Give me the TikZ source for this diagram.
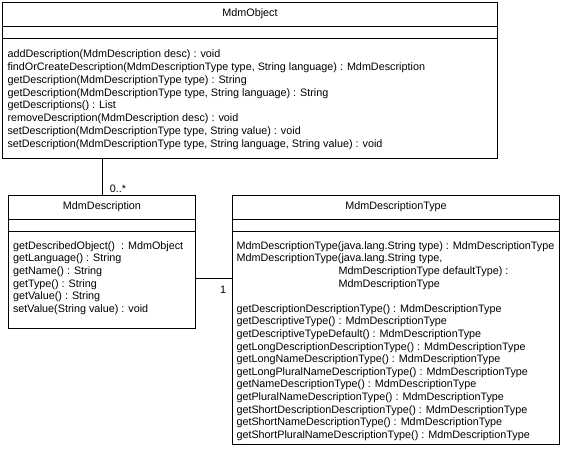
\documentclass[tikz,border=0pt]{standalone}
\usepackage{fontspec}
\setmainfont{Liberation Sans}

\begin{document}
\begin{tikzpicture}[x=1pt, y=-1pt, line width=1pt,
    every node/.style={font=\fontsize{10.8}{12.6}\selectfont},
    classbox/.style={draw, anchor=north west, inner sep=0pt},
    ops/.style={anchor=north west, align=left, inner sep=0pt}]
    \useasboundingbox (0,0) rectangle (561,448);
    % class boxes
    \node[classbox, minimum width=495pt, minimum height=156pt] (obj) at (2,2) {};
    \node[classbox, minimum width=187pt, minimum height=133pt] (desc) at (8,195) {};
    \node[classbox, minimum width=327pt, minimum height=249pt] (type) at (232,195) {};
    \foreach \c in {obj, desc, type} {
        \draw ([yshift=-24pt]\c.north west) -- ([yshift=-24pt]\c.north east);
        \draw ([yshift=-36pt]\c.north west) -- ([yshift=-36pt]\c.north east);
    }
    \node (objname) at ([yshift=-12pt]obj.north) {MdmObject};
    \node (descname) at ([yshift=-12pt]desc.north) {MdmDescription};
    \node (typename) at ([yshift=-12pt]type.north) {MdmDescriptionType};
    % operations
    \node[ops, font=\fontsize{10.8}{12.9}\selectfont] (objops)
        at ([xshift=5pt, yshift=-47pt]obj.north west) {
        addDescription(MdmDescription desc) : void\\
        findOrCreateDescription(MdmDescriptionType type, String language) : MdmDescription\\
        getDescription(MdmDescriptionType type) : String\\
        getDescription(MdmDescriptionType type, String language) : String\\
        getDescriptions() : List\\
        removeDescription(MdmDescription desc) : void\\
        setDescription(MdmDescriptionType type, String value) : void\\
        setDescription(MdmDescriptionType type, String language, String value) : void};
    \node[ops] (descops) at ([xshift=4.5pt, yshift=-46pt]desc.north west) {
        getDescribedObject() \ : MdmObject\\
        getLanguage() : String\\
        getName() : String\\
        getType() : String\\
        getValue() : String\\
        setValue(String value) : void};
    \node[ops] (typeops) at ([xshift=4pt, yshift=-46pt]type.north west) {
        MdmDescriptionType(java.lang.String type) : MdmDescriptionType\\
        MdmDescriptionType(java.lang.String type,\\
        \hspace*{102pt}MdmDescriptionType defaultType) :\\
        \hspace*{102pt}MdmDescriptionType\\[12.6pt]
        getDescriptionDescriptionType() : MdmDescriptionType\\
        getDescriptiveType() : MdmDescriptionType\\
        getDescriptiveTypeDefault() : MdmDescriptionType\\
        getLongDescriptionDescriptionType() : MdmDescriptionType\\
        getLongNameDescriptionType() : MdmDescriptionType\\
        getLongPluralNameDescriptionType() : MdmDescriptionType\\
        getNameDescriptionType() : MdmDescriptionType\\
        getPluralNameDescriptionType() : MdmDescriptionType\\
        getShortDescriptionDescriptionType() : MdmDescriptionType\\
        getShortNameDescriptionType() : MdmDescriptionType\\
        getShortPluralNameDescriptionType() : MdmDescriptionType};
    % associations
    \draw (desc.north) -- (desc.north |- obj.south);
    \node[anchor=base west] (many) at (106,192) {0..*};
    \coordinate (link) at (0,278);
    \draw (link -| desc.east) -- (link -| type.west);
    \node[anchor=base east] (one) at (230,293) {1};
\end{tikzpicture}
\end{document}
